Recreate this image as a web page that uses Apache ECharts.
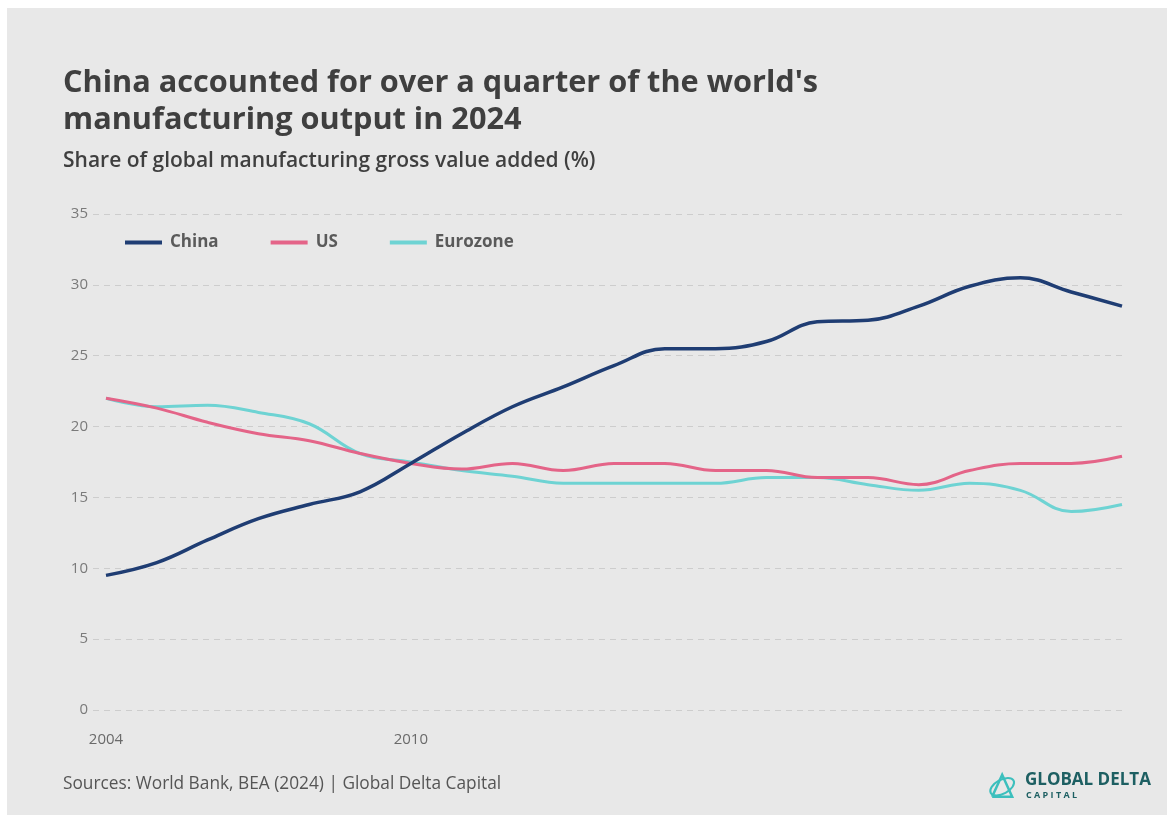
<!DOCTYPE html>
<html>
<head>
<meta charset="utf-8">
<script src="https://cdn.jsdelivr.net/npm/echarts@6/dist/echarts.min.js"></script>
<style>
  html, body { margin: 0; padding: 0; background: #ffffff; }
  #wrap { position: absolute; left: 7px; top: 8px; width: 1160px; height: 807px; background: #e8e8e8; }
  #chart { position: absolute; left: 0; top: 0; width: 1167px; height: 817px; }
</style>
</head>
<body>
<div id="wrap"></div>
<div id="chart"></div>
<script>
const years = [2004, 2005, 2006, 2007, 2008, 2009, 2010, 2011, 2012, 2013, 2014,
               2015, 2016, 2017, 2018, 2019, 2020, 2021, 2022, 2023, 2024];
const china = [9.5, 10.4, 12.0, 13.5, 14.5, 15.4, 17.4, 19.5, 21.4, 22.8, 24.3,
               25.5, 25.5, 26.0, 27.4, 27.5, 28.5, 29.9, 30.5, 29.5, 28.5];
const us    = [22.0, 21.3, 20.3, 19.5, 19.0, 18.1, 17.4, 17.0, 17.4, 16.9, 17.4,
               17.4, 16.9, 16.9, 16.4, 16.4, 15.9, 16.9, 17.4, 17.4, 17.9];
const euro  = [22.0, 21.4, 21.5, 21.0, 20.2, 18.1, 17.5, 16.9, 16.5, 16.0, 16.0,
               16.0, 16.0, 16.4, 16.4, 15.9, 15.5, 16.0, 15.5, 14.0, 14.5];
const xLabelsShown = [2004, 2010];
const yTicks = [0, 5, 10, 15, 20, 25, 30, 35];
const seriesNames = ['China', 'US', 'Eurozone'];
const seriesColors = ['#1f3d73', '#e46488', '#6ed3d3'];

const FONT = '"Open Sans", "Noto Sans", sans-serif';
const pairs = arr => years.map((y, i) => [y, arr[i]]);
const dataSets = [china, us, euro];

const chart = echarts.init(document.getElementById('chart'), null, { renderer: 'canvas' });
chart.setOption({
  backgroundColor: 'transparent',
  animation: false,
  textStyle: { fontFamily: FONT },
  title: [
    {
      text: "China accounted for over a quarter of the world's\nmanufacturing output in 2024",
      left: 63, top: 65, padding: 0,
      textStyle: { fontFamily: FONT, fontWeight: 700, fontSize: 30.7, lineHeight: 37, color: '#3f3f3f' }
    },
    {
      text: 'Share of global manufacturing gross value added (%)',
      left: 63, top: 151, padding: 0,
      textStyle: { fontFamily: FONT, fontWeight: 600, fontSize: 21, color: '#3f3f3f' }
    },
    {
      text: 'Sources: World Bank, BEA (2024) | Global Delta Capital',
      left: 63, top: 776, padding: 0,
      textStyle: { fontFamily: FONT, fontWeight: 400, fontSize: 17.3, color: '#555555' }
    }
  ],
  legend: {
    left: 125, top: 234, padding: 0,
    itemWidth: 37, itemHeight: 4, itemGap: 52,
    icon: 'rect',
    data: seriesNames,
    textStyle: { fontFamily: FONT, fontWeight: 700, fontSize: 17, color: '#5a5a5a', padding: [0, 0, 0, 3] }
  },
  grid: { left: 93, right: 45, top: 214, bottom: 107, containLabel: false },
  xAxis: {
    type: 'value',
    min: years[0] - 0.256,
    max: years[years.length - 1],
    axisLine: { show: false },
    axisTick: { show: false },
    splitLine: { show: false },
    axisLabel: {
      customValues: xLabelsShown,
      formatter: v => String(v),
      color: '#6a6a6a', fontSize: 15, fontFamily: FONT, margin: 22
    }
  },
  yAxis: {
    type: 'value',
    min: yTicks[0], max: yTicks[yTicks.length - 1], interval: 5,
    axisLine: { show: false },
    axisTick: { show: false },
    axisLabel: { color: '#7a7a7a', fontSize: 15, fontFamily: FONT, margin: 5 },
    splitLine: { show: true, lineStyle: { color: '#cdcdcd', width: 1, type: [6, 5] } }
  },
  series: seriesNames.map((name, i) => ({
    name: name,
    type: 'line',
    data: pairs(dataSets[i]),
    smooth: 0.4,
    showSymbol: false,
    symbol: 'none',
    color: seriesColors[i],
    lineStyle: { color: seriesColors[i], width: i === 0 ? 3.5 : 3 },
    z: 3 - i
  })),
  graphic: [
    {
      type: 'group', left: 984, top: 771,
      children: [
        { type: 'polyline', shape: { points: [[4, 24], [14, 2], [24, 24], [4, 24]] },
          style: { stroke: '#3cbfbd', fill: null, lineWidth: 2.5 } },
        { type: 'ellipse', shape: { cx: 14, cy: 14, rx: 13, ry: 7 }, rotation: 0.5, originX: 14, originY: 14,
          style: { stroke: '#3cbfbd', fill: null, lineWidth: 2 } }
      ]
    },
    {
      type: 'text', left: 1025, top: 772,
      style: { text: 'GLOBAL DELTA', font: '700 17px ' + FONT, fill: '#1d5f62' }
    },
    {
      type: 'text', left: 1026, top: 791,
      style: { text: 'C A P I T A L', font: '700 9px ' + FONT, fill: '#1d5f62' }
    }
  ]
});
</script>
</body>
</html>
